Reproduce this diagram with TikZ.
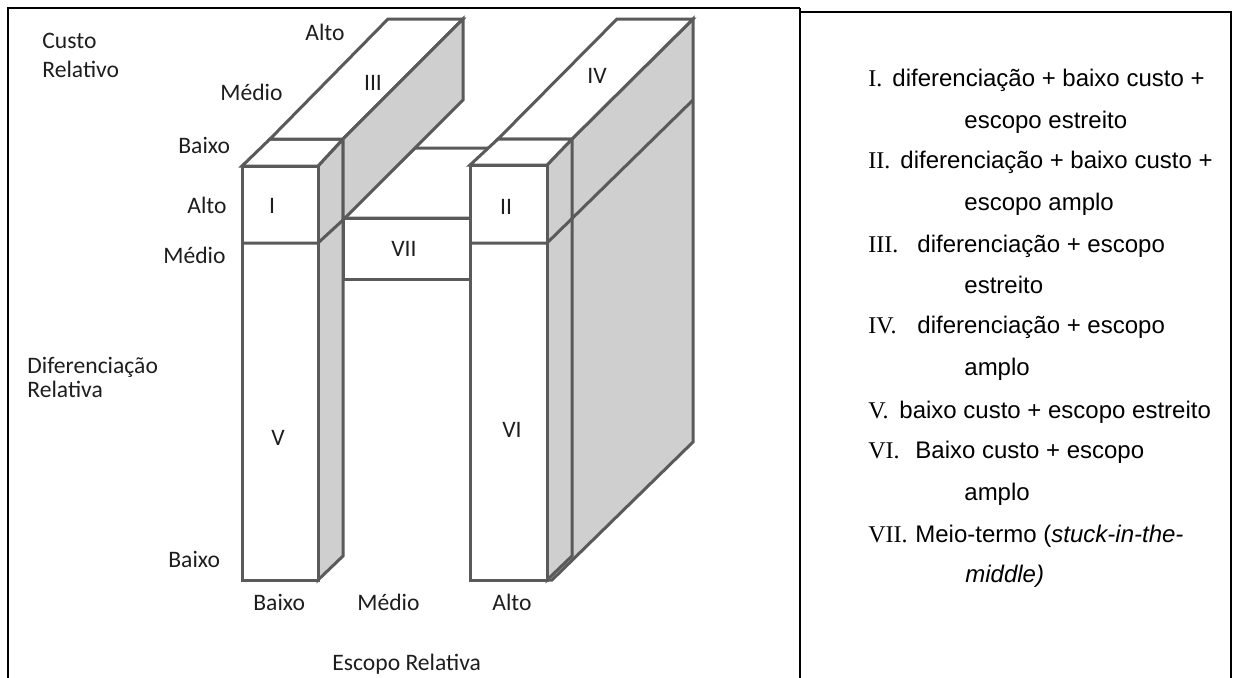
\documentclass[tikz,border=0pt]{standalone}
\usepackage{fontspec}
\setmainfont{Liberation Sans}
\newfontfamily\axisfont{Carlito}
\newfontfamily\numfont{Liberation Serif}
\definecolor{edgegray}{HTML}{5A5A5A}
\definecolor{sidegray}{HTML}{CFCFCF}
\definecolor{labelink}{HTML}{1E1E1E}
\begin{document}
\begin{tikzpicture}[x=0.5pt,y=-0.5pt,
  edge/.style={draw=edgegray,line width=1.5pt},
  face/.style={edge,fill=white},
  shade/.style={edge,fill=sidegray},
  axis/.style={font=\axisfont\fontsize{11.8}{14}\selectfont,inner sep=0pt,anchor=base west,text=labelink},
  roman/.style={font=\axisfont\fontsize{11.8}{14}\selectfont,inner sep=0pt,text=labelink},
  num/.style={font=\numfont\fontsize{12}{14}\selectfont,inner sep=0pt,anchor=base west},
  item/.style={font=\fontsize{12}{14}\selectfont,inner sep=0pt,anchor=base west},
  frame/.style={line width=1.2pt,draw=black}]
\useasboundingbox (0,0) rectangle (1233,677);
\fill[white] (0,0) rectangle (1233,677);

% table frame
\draw[frame] (8,680) -- (8,8) -- (800,8);
\draw[frame] (800,680) -- (800,8);
\draw[frame] (800,12) -- (1231,12) -- (1231,680);

% corner points of the solids
\coordinate (lftTL) at (242,166);
\coordinate (lftTR) at (318,166);
\coordinate (lftBR) at (318,580);
\coordinate (lftMidL) at (242,243);
\coordinate (lftMidR) at (318,243);
\coordinate (lftBackTL) at (270,139);
\coordinate (lftBackT) at (343,139);
\coordinate (lftBackB) at (343,556);
\coordinate (barBackL) at (388,19);
\coordinate (barBackR) at (463,19);
\coordinate (barBackLow) at (463,100);
\coordinate (barFrontLow) at (343,220);
\coordinate (midFL) at (343,218);
\coordinate (midFR) at (470,218);
\coordinate (midBR) at (470,279);
\coordinate (midBackL) at (415,148);
\coordinate (midBackR) at (542,148);
\coordinate (rgtTL) at (470,165);
\coordinate (rgtTR) at (547,165);
\coordinate (rgtBR) at (547,580);
\coordinate (rgtMidL) at (470,243);
\coordinate (rgtMidR) at (547,243);
\coordinate (rgtBackTL) at (498,139);
\coordinate (rgtBackTR) at (572,139);
\coordinate (rgtBackB) at (572,556);
\coordinate (wallTL) at (617,19);
\coordinate (wallTR) at (693,19);
\coordinate (wallLow) at (693,100);
\coordinate (wallBot) at (693,442);
\coordinate (wallFoot) at (552,580);

% middle block (VII)
\draw[face] (midFL) -- (midBackL) -- (midBackR) -- (midFR) -- cycle;
\draw[face] (midFL) rectangle (midBR);

% left column (I over V)
\draw[shade] (lftTR) -- (lftBackT) -- (lftBackB) -- (lftBR) -- cycle;
\draw[face] (lftTL) -- (lftBackTL) -- (lftBackT) -- (lftTR) -- cycle;
\draw[face] (lftTL) rectangle (lftBR);
\draw[edge] (lftMidL) -- (lftMidR) -- (barFrontLow);

% bar running back (III)
\draw[face] (lftBackTL) -- (barBackL) -- (barBackR) -- (lftBackT) -- cycle;
\draw[shade] (lftBackT) -- (barBackR) -- (barBackLow) -- (barFrontLow) -- cycle;

% right block (II over VI, wall IV behind)
\draw[shade] (rgtBackTR) -- (wallTR) -- (wallBot) -- (wallFoot) -- (rgtBR) -- (rgtTR) -- cycle;
\draw[shade] (rgtTR) -- (rgtBackTR) -- (rgtBackB) -- (rgtBR) -- cycle;
\draw[face] (rgtBackTL) -- (wallTL) -- (wallTR) -- (rgtBackTR) -- cycle;
\draw[face] (rgtTL) -- (rgtBackTL) -- (rgtBackTR) -- (rgtTR) -- cycle;
\draw[face] (rgtTL) rectangle (rgtBR);
\draw[edge] (rgtMidL) -- (rgtMidR) -- (wallLow);

% region numerals
\node[roman] (nI) at (272,206) {I};
\node[roman] (nII) at (506,207) {II};
\node[roman] (nIII) at (373,83) {III};
\node[roman] (nIV) at (597,76) {IV};
\node[roman] (nV) at (278,438) {V};
\node[roman] (nVI) at (512,430) {VI};
\node[roman] (nVII) at (404,249) {VII};

% axis labels
\node[axis] (custoA) at (42,48) {Custo};
\node[axis] (custoB) at (42,77) {Relativo};
\node[axis] (cAlto) at (305,40) {Alto};
\node[axis] (cMedio) at (220,100) {Médio};
\node[axis] (cBaixo) at (178,153) {Baixo};
\node[axis] (dAlto) at (187,213) {Alto};
\node[axis] (dMedio) at (163,263) {Médio};
\node[axis] (difA) at (27,373) {Diferenciação};
\node[axis] (difB) at (27,397) {Relativa};
\node[axis] (dBaixo) at (168,567) {Baixo};
\node[axis] (eBaixo) at (253,610) {Baixo};
\node[axis] (eMedio) at (357,610) {Médio};
\node[axis] (eAlto) at (492,610) {Alto};
\node[axis] (escopo) at (332,670) {Escopo Relativa};

% legend
\node[num] (kI) at (868,86) {I.};
\node[item] (tI) at (892,86) {diferenciação + baixo custo +};
\node[item] (tIb) at (964,128) {escopo estreito};
\node[num] (kII) at (868,168) {II.};
\node[item] (tII) at (900,168) {diferenciação + baixo custo +};
\node[item] (tIIb) at (964,210) {escopo amplo};
\node[num] (kIII) at (868,252) {III.};
\node[item] (tIII) at (917,252) {diferenciação + escopo};
\node[item] (tIIIb) at (964,293) {estreito};
\node[num] (kIV) at (868,333) {IV.};
\node[item] (tIV) at (917,333) {diferenciação + escopo};
\node[item] (tIVb) at (964,375) {amplo};
\node[num] (kV) at (868,418) {V.};
\node[item] (tV) at (899,418) {baixo custo + escopo estreito};
\node[num] (kVI) at (868,458) {VI.};
\node[item] (tVI) at (915,458) {Baixo custo + escopo};
\node[item] (tVIb) at (964,500) {amplo};
\node[num] (kVII) at (868,542) {VII.};
\node[item] (tVII) at (915,542) {Meio-termo (\textit{stuck-in-the-}};
\node[item] (tVIIb) at (965,582) {\textit{middle)}};
\end{tikzpicture}
\end{document}
